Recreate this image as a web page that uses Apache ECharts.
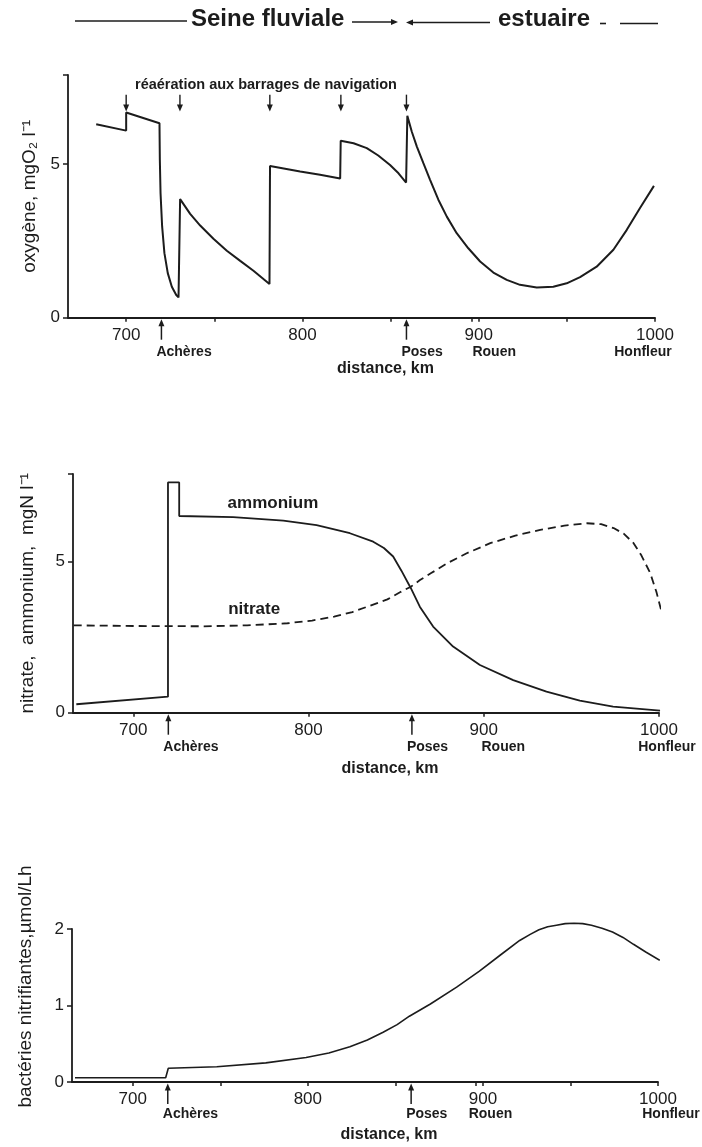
<!DOCTYPE html>
<html>
<head>
<meta charset="utf-8">
<script src="https://cdn.jsdelivr.net/npm/echarts@6/dist/echarts.min.js"></script>
<style>
html,body{margin:0;padding:0;background:#fff;}
#c{width:702px;height:1147px;}
</style>
</head>
<body>
<div id="c"></div>
<script>
// ---------------- DATA ----------------
// distance along the Seine (km), value
const oxygen = [[683,6.3],[700,6.09],[700,6.68],[718.9,6.33],[719.1,5.14],[719.5,4.05],[720.4,2.97],[721.7,2.10],[723.6,1.45],[725.9,1.01],[728.4,0.74],[729.7,0.66],[730.6,3.86],[736.3,3.38],[742,3.0],[749.5,2.57],[757.1,2.18],[764.7,1.85],[772.2,1.53],[781.3,1.10],[781.6,4.94],[798.7,4.76],[810,4.65],[821.4,4.53],[821.7,5.76],[829,5.68],[836.5,5.52],[843,5.28],[849.7,4.97],[854.5,4.70],[858.8,4.40],[859.5,6.57],[862,6.06],[864.9,5.57],[868.6,5.03],[872.4,4.49],[877.1,3.84],[881.9,3.29],[887.5,2.75],[894.1,2.26],[900.8,1.83],[908.3,1.47],[915.9,1.23],[923.4,1.07],[932.9,0.98],[942.3,1.01],[949.9,1.12],[957.5,1.32],[966.9,1.66],[976.4,2.21],[984,2.86],[991.5,3.57],[999.4,4.29]];
const ammonium = [[667.5,0.28],[719.8,0.53],[719.8,7.62],[726.2,7.62],[726.2,6.51],[757,6.47],[785.6,6.36],[804.6,6.21],[823.6,5.94],[836.9,5.66],[843,5.45],[848.3,5.17],[853,4.70],[858.4,4.12],[863.5,3.51],[871.1,2.85],[882.5,2.19],[897.8,1.58],[916.8,1.08],[935.8,0.70],[954.8,0.40],[973.8,0.20],[1000.6,0.07]];
const nitrate = [[666,2.89],[700,2.87],[740,2.86],[765,2.89],[788,2.96],[802,3.05],[814.6,3.18],[825,3.33],[833.6,3.51],[845,3.75],[852.7,4.0],[858.4,4.17],[863.6,4.39],[870,4.62],[879.3,4.95],[890,5.27],[903.7,5.61],[918,5.86],[932.2,6.05],[946,6.19],[958.9,6.27],[967,6.24],[974.1,6.11],[980,5.92],[985.5,5.61],[990,5.20],[995,4.62],[998.5,4.00],[1001.7,3.29]];
const bacteria = [[667,0.056],[718.8,0.056],[720.3,0.18],[748,0.20],[776,0.25],[799,0.32],[812,0.38],[824,0.46],[834,0.55],[843,0.65],[851,0.75],[858,0.86],[870,1.02],[885,1.24],[898,1.45],[910,1.66],[921,1.85],[927,1.93],[932,1.99],[937,2.03],[942,2.05],[947,2.07],[952,2.075],[957,2.07],[962,2.05],[968,2.01],[974,1.96],[980,1.89],[986,1.80],[993,1.70],[1001,1.59]];

const xTickLabels = [700, 800, 900, 1000];
const xTicksDense = [700, 750, 800, 850, 896, 900, 950, 1000];
const xTicksSparse = [700, 800, 900, 1000];
const yLabels1 = [0, 5];
const yLabels2 = [0, 5];
const yLabels3 = [0, 1, 2];
const aerationKm = [700, 730.5, 781.5, 821.8, 859];
const places = [
  {name: 'Achères', km: 720, arrow: true},
  {name: 'Poses', km: 859, arrow: true},
  {name: 'Rouen', km: 897, arrow: false},
  {name: 'Honfleur', km: 1000, arrow: false}
];
const yNames = ['oxygène, mgO₂ l⁻¹', 'nitrate,  ammonium,  mgN l⁻¹', 'bactéries nitrifiantes,µmol/Lh'];
const xName = 'distance, km';

// ---------------- STYLE ----------------
const INK = '#1c1c1c';
const FONT = "'Liberation Sans', Arial, Helvetica, sans-serif";

function plain(v) { return String(v); }

function xAxis(gridIndex, min, ticks, labelMargin, nameGap) {
  return {
    type: 'value', gridIndex, min, max: 1000,
    axisLine: {show: true, onZero: false, lineStyle: {color: INK, width: 1.8}},
    axisTick: {show: true, customValues: ticks, length: 4, lineStyle: {color: INK, width: 1.5}},
    axisLabel: {customValues: xTickLabels, formatter: plain, margin: labelMargin, color: INK, fontSize: 17, fontFamily: FONT},
    splitLine: {show: false},
    name: xName, nameLocation: 'middle', nameGap,
    nameTextStyle: {fontSize: 16, fontWeight: 'bold', color: INK, fontFamily: FONT, padding: [0, 0, 0, 48]}
  };
}
function yAxis(gridIndex, max, labels, ticks, name, nameGap, namePad) {
  return {
    type: 'value', gridIndex, min: 0, max,
    axisLine: {show: true, lineStyle: {color: INK, width: 1.8}},
    axisTick: {show: true, customValues: ticks, length: 5, lineStyle: {color: INK, width: 1.5}},
    axisLabel: {customValues: labels, formatter: plain, margin: 8, color: INK, fontSize: 17, fontFamily: FONT},
    splitLine: {show: false},
    name, nameLocation: 'middle', nameRotate: 90, nameGap,
    nameTextStyle: {fontSize: 19, color: INK, fontFamily: FONT, padding: [0, 0, 0, namePad]}
  };
}

const chart = echarts.init(document.getElementById('c'), null, {renderer: 'canvas'});
chart.setOption({
  animation: false,
  backgroundColor: '#ffffff',
  grid: [
    {left: 68, top: 75, width: 587, height: 242.7},
    {left: 73, top: 474, width: 586, height: 238.7},
    {left: 72, top: 929, width: 586, height: 153}
  ],
  xAxis: [
    xAxis(0, 667, xTicksDense, 9.5, 43),
    xAxis(1, 665.6, xTicksSparse, 9.5, 47.5),
    xAxis(2, 665.3, xTicksDense, 8.5, 45)
  ],
  yAxis: [
    yAxis(0, 7.9, yLabels1, [0, 5, 7.9], yNames[0], 27, 0),
    yAxis(1, 7.9, yLabels2, [0, 5, 7.9], yNames[1], 36, 0),
    yAxis(2, 2, yLabels3, [0, 1, 2], yNames[2], 37, 38)
  ],
  series: [
    {type: 'line', name: 'oxygène', xAxisIndex: 0, yAxisIndex: 0, data: oxygen, symbol: 'none', clip: false,
      lineStyle: {color: INK, width: 2}},
    {type: 'line', name: 'ammonium', xAxisIndex: 1, yAxisIndex: 1, data: ammonium, symbol: 'none', clip: false,
      lineStyle: {color: INK, width: 1.8}},
    {type: 'line', name: 'nitrate', xAxisIndex: 1, yAxisIndex: 1, data: nitrate, symbol: 'none', clip: false,
      lineStyle: {color: INK, width: 1.8, type: [8, 5]}},
    {type: 'line', name: 'bactéries nitrifiantes', xAxisIndex: 2, yAxisIndex: 2, data: bacteria, symbol: 'none', clip: false,
      lineStyle: {color: INK, width: 1.6}}
  ]
});

// ---------------- ANNOTATIONS ----------------
function arrow(x, yTail, yHead, w) {
  const dir = yHead > yTail ? 1 : -1;
  return [
    {type: 'line', silent: true, shape: {x1: x, y1: yTail, x2: x, y2: yHead - dir * 4}, style: {stroke: INK, lineWidth: w || 1.5}},
    {type: 'polygon', silent: true, shape: {points: [[x - 3, yHead - dir * 7], [x + 3, yHead - dir * 7], [x, yHead]]}, style: {fill: INK}}
  ];
}
function text(t, x, y, font, align) {
  return {type: 'text', silent: true, style: {text: t, x, y, font, fill: INK,
    align: align || 'center', verticalAlign: 'middle', textAlign: align || 'center', textVerticalAlign: 'middle'}};
}
const els = [];
// header
els.push({type: 'line', silent: true, shape: {x1: 75, y1: 21, x2: 187, y2: 21}, style: {stroke: INK, lineWidth: 1.6}});
els.push(text('Seine fluviale', 191, 19, 'bold 24px ' + FONT, 'left'));
els.push({type: 'line', silent: true, shape: {x1: 352, y1: 22, x2: 392, y2: 22}, style: {stroke: INK, lineWidth: 1.6}});
els.push({type: 'polygon', silent: true, shape: {points: [[391, 19], [391, 25], [398, 22]]}, style: {fill: INK}});
els.push({type: 'polygon', silent: true, shape: {points: [[413, 19.5], [413, 25.5], [406, 22.5]]}, style: {fill: INK}});
els.push({type: 'line', silent: true, shape: {x1: 412, y1: 22.5, x2: 490, y2: 22.5}, style: {stroke: INK, lineWidth: 1.6}});
els.push(text('estuaire', 498, 19.5, 'bold 24px ' + FONT, 'left'));
els.push({type: 'line', silent: true, shape: {x1: 600, y1: 23.5, x2: 606, y2: 23.5}, style: {stroke: INK, lineWidth: 1.6}});
els.push({type: 'line', silent: true, shape: {x1: 620, y1: 23.5, x2: 658, y2: 23.5}, style: {stroke: INK, lineWidth: 1.6}});

// panel 1 : reaeration note + arrows
const noteP = chart.convertToPixel({gridIndex: 0}, [779.3, 7.58]);
els.push(text('réaération aux barrages de navigation', noteP[0], noteP[1], 'bold 14.5px ' + FONT, 'center'));
aerationKm.forEach(function (km) {
  const top = chart.convertToPixel({gridIndex: 0}, [km, 7.26]);
  const bot = chart.convertToPixel({gridIndex: 0}, [km, 6.71]);
  arrow(top[0], top[1], bot[1], 1.4).forEach(e => els.push(e));
});

// panel 2 curve labels
const amP = chart.convertToPixel({gridIndex: 1}, [779.7, 6.94]);
els.push(text('ammonium', amP[0], amP[1], 'bold 17px ' + FONT, 'center'));
const niP = chart.convertToPixel({gridIndex: 1}, [769, 3.43]);
els.push(text('nitrate', niP[0], niP[1], 'bold 17px ' + FONT, 'center'));

// place names under each x axis
const nameOffset = [34, 34, 32];
const rouenDx = [-1, 3, -9];
const honfleurDx = [-12, 8, 13];
[0, 1, 2].forEach(function (g) {
  places.forEach(function (p) {
    const pt = chart.convertToPixel({gridIndex: g}, [p.km, 0]);
    const x = pt[0], y0 = pt[1];
    if (p.arrow) {
      arrow(x, y0 + 22, y0 + 1.5, 1.5).forEach(e => els.push(e));
    }
    let tx = x - 5, align = 'left';
    if (p.name === 'Rouen') { tx = x + rouenDx[g]; }
    if (p.name === 'Honfleur') { tx = x + honfleurDx[g]; align = 'center'; }
    els.push(text(p.name, tx, y0 + nameOffset[g], 'bold 14px ' + FONT, align));
  });
});

chart.setOption({graphic: {elements: els}});
</script>
</body>
</html>
